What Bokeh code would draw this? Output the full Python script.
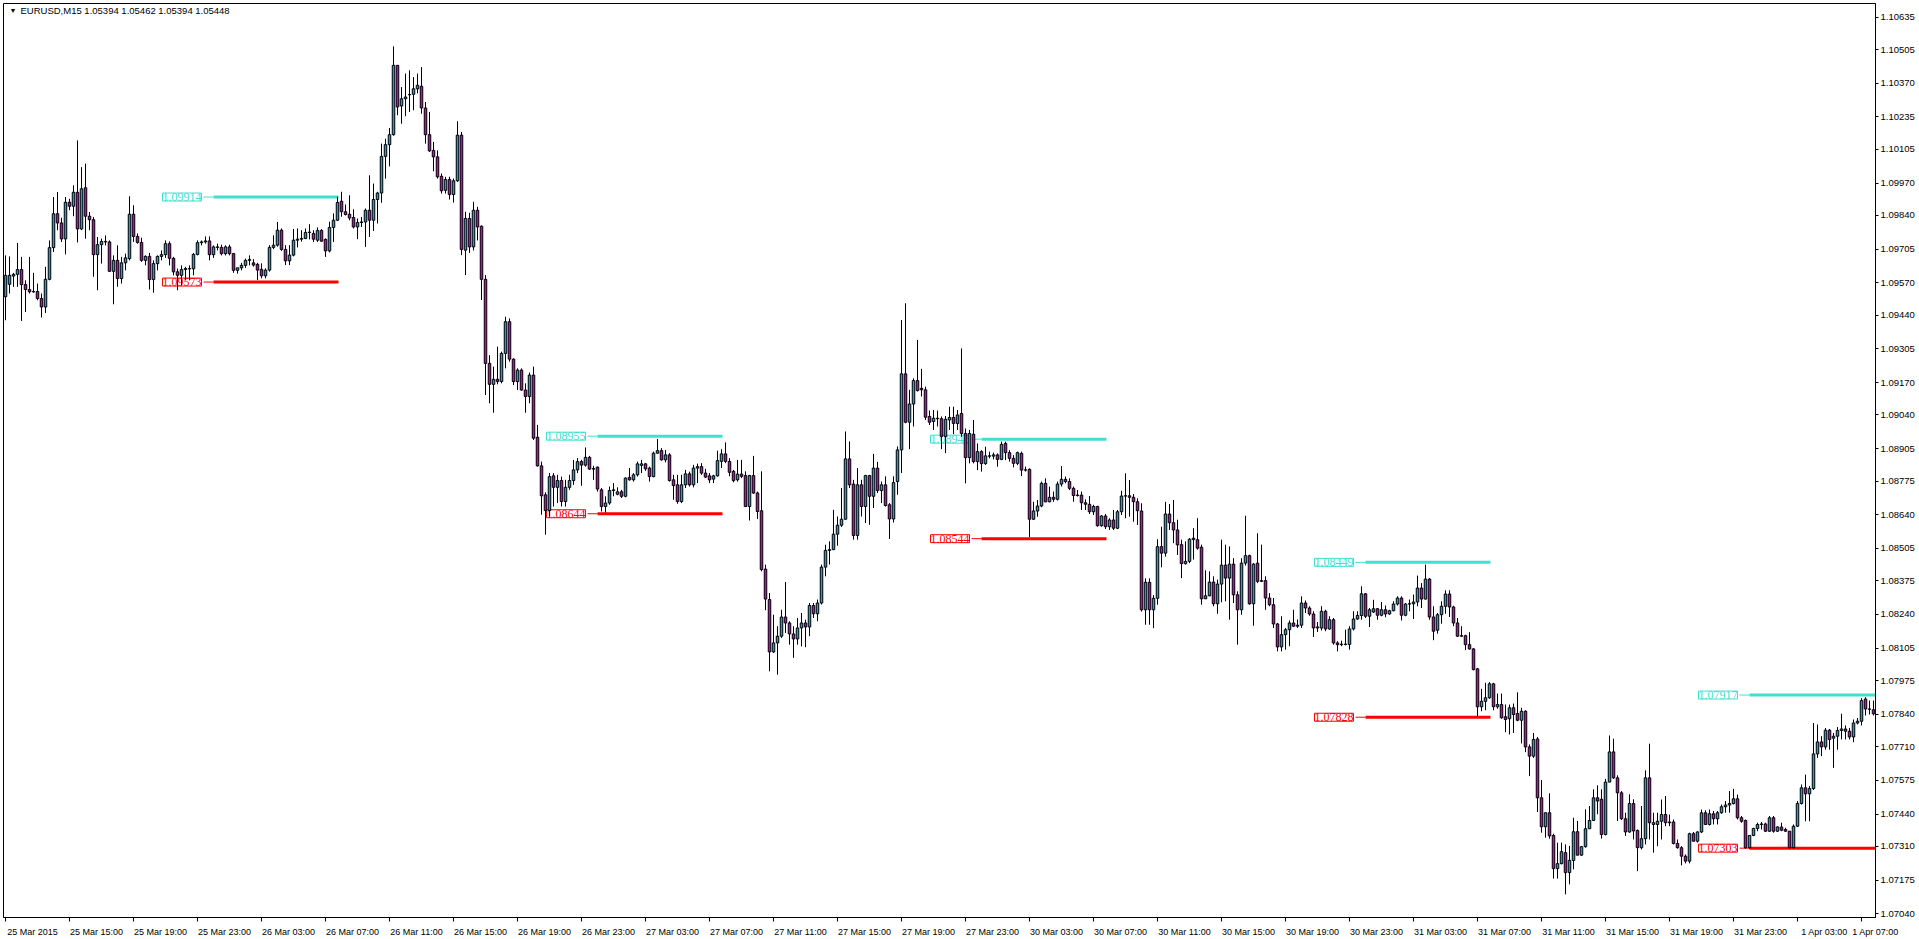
from bokeh.plotting import figure
from bokeh.models import (ColumnDataSource, Range1d, LinearAxis, FixedTicker,
                          PrintfTickFormatter, LabelSet, Label)
from bokeh.embed import file_html
from bokeh.resources import INLINE

# EURUSD M15 candles, bar 0 = 25 Mar 2015 11:00, one bar every 15 minutes
opens = [
    1.09514, 1.09564, 1.09597, 1.09604, 1.09623, 1.09563, 1.09543, 1.09534, 1.09535, 1.09507,
    1.09473, 1.09584, 1.09711, 1.09847, 1.09810, 1.09746, 1.09893, 1.09877, 1.09933, 1.09786,
    1.09951, 1.09837, 1.09823, 1.09683, 1.09723, 1.09736, 1.09734, 1.09616, 1.09660, 1.09587,
    1.09650, 1.09667, 1.09845, 1.09756, 1.09732, 1.09660, 1.09676, 1.09583, 1.09647, 1.09676,
    1.09683, 1.09727, 1.09668, 1.09614, 1.09600, 1.09623, 1.09627, 1.09626, 1.09684, 1.09731,
    1.09734, 1.09738, 1.09683, 1.09714, 1.09712, 1.09687, 1.09714, 1.09687, 1.09620, 1.09630,
    1.09640, 1.09660, 1.09650, 1.09644, 1.09624, 1.09598, 1.09621, 1.09712, 1.09721, 1.09781,
    1.09704, 1.09658, 1.09681, 1.09741, 1.09745, 1.09748, 1.09772, 1.09768, 1.09741, 1.09780,
    1.09744, 1.09698, 1.09792, 1.09821, 1.09897, 1.09855, 1.09845, 1.09832, 1.09794, 1.09812,
    1.09814, 1.09861, 1.09821, 1.09904, 1.09930, 1.10077, 1.10124, 1.10164, 1.10442, 1.10279,
    1.10308, 1.10324, 1.10326, 1.10348, 1.10358, 1.10271, 1.10164, 1.10101, 1.10075, 1.09997,
    1.09941, 1.09984, 1.09924, 1.09979, 1.10162, 1.09701, 1.09828, 1.09714, 1.09861, 1.09797,
    1.09584, 1.09247, 1.09163, 1.09183, 1.09174, 1.09287, 1.09414, 1.09264, 1.09174, 1.09220,
    1.09140, 1.09114, 1.09200, 1.08951, 1.08836, 1.08720, 1.08657, 1.08796, 1.08750, 1.08777,
    1.08693, 1.08750, 1.08777, 1.08820, 1.08853, 1.08839, 1.08870, 1.08823, 1.08831, 1.08740,
    1.08673, 1.08687, 1.08737, 1.08722, 1.08732, 1.08714, 1.08790, 1.08780, 1.08800, 1.08838,
    1.08844, 1.08827, 1.08793, 1.08887, 1.08897, 1.08860, 1.08880, 1.08780, 1.08760, 1.08693,
    1.08760, 1.08804, 1.08760, 1.08827, 1.08833, 1.08807, 1.08796, 1.08783, 1.08796, 1.08854,
    1.08884, 1.08854, 1.08814, 1.08780, 1.08803, 1.08797, 1.08673, 1.08797, 1.08727, 1.08656,
    1.08422, 1.08300, 1.08090, 1.08126, 1.08153, 1.08230, 1.08206, 1.08162, 1.08142, 1.08186,
    1.08206, 1.08190, 1.08276, 1.08243, 1.08286, 1.08430, 1.08497, 1.08500, 1.08562, 1.08598,
    1.08622, 1.08864, 1.08763, 1.08557, 1.08760, 1.08673, 1.08797, 1.08714, 1.08827, 1.08737,
    1.08760, 1.08680, 1.08623, 1.08773, 1.08900, 1.09205, 1.09011, 1.09084, 1.09178, 1.09147,
    1.09141, 1.09034, 1.09014, 1.09027, 1.09025, 1.08954, 1.09020, 1.09030, 1.09006, 1.09046,
    1.08966, 1.08869, 1.08963, 1.08853, 1.08893, 1.08845, 1.08876, 1.08875, 1.08880, 1.08862,
    1.08926, 1.08889, 1.08866, 1.08846, 1.08886, 1.08819, 1.08822, 1.08622, 1.08655, 1.08675,
    1.08766, 1.08692, 1.08710, 1.08702, 1.08763, 1.08782, 1.08773, 1.08746, 1.08717, 1.08719,
    1.08688, 1.08682, 1.08652, 1.08673, 1.08596, 1.08635, 1.08592, 1.08619, 1.08586, 1.08652,
    1.08715, 1.08716, 1.08710, 1.08692, 1.08655, 1.08259, 1.08369, 1.08259, 1.08305, 1.08512,
    1.08486, 1.08643, 1.08608, 1.08579, 1.08520, 1.08444, 1.08453, 1.08546, 1.08540, 1.08510,
    1.08303, 1.08315, 1.08370, 1.08283, 1.08362, 1.08438, 1.08386, 1.08442, 1.08319, 1.08259,
    1.08446, 1.08476, 1.08283, 1.08446, 1.08373, 1.08376, 1.08306, 1.08279, 1.08202, 1.08110,
    1.08159, 1.08179, 1.08206, 1.08193, 1.08197, 1.08286, 1.08266, 1.08242, 1.08186, 1.08186,
    1.08253, 1.08182, 1.08219, 1.08126, 1.08119, 1.08121, 1.08120, 1.08182, 1.08222, 1.08236,
    1.08323, 1.08233, 1.08250, 1.08263, 1.08237, 1.08259, 1.08242, 1.08255, 1.08282, 1.08306,
    1.08237, 1.08282, 1.08283, 1.08290, 1.08346, 1.08302, 1.08382, 1.08230, 1.08177, 1.08239,
    1.08273, 1.08322, 1.08270, 1.08206, 1.08153, 1.08155, 1.08119, 1.08102, 1.08022, 1.07870,
    1.07892, 1.07906, 1.07962, 1.07870, 1.07879, 1.07830, 1.07822, 1.07866, 1.07843, 1.07816,
    1.07852, 1.07709, 1.07672, 1.07741, 1.07505, 1.07389, 1.07445, 1.07354, 1.07221, 1.07241,
    1.07285, 1.07205, 1.07254, 1.07369, 1.07275, 1.07309, 1.07381, 1.07414, 1.07505, 1.07499,
    1.07358, 1.07568, 1.07689, 1.07585, 1.07525, 1.07421, 1.07368, 1.07482, 1.07374, 1.07305,
    1.07341, 1.07585, 1.07398, 1.07398, 1.07411, 1.07438, 1.07405, 1.07408, 1.07322, 1.07305,
    1.07271, 1.07251, 1.07361, 1.07331, 1.07368, 1.07445, 1.07398, 1.07441, 1.07421, 1.07445,
    1.07469, 1.07476, 1.07482, 1.07501, 1.07425, 1.07414, 1.07305, 1.07354, 1.07382, 1.07398,
    1.07400, 1.07371, 1.07425, 1.07371, 1.07388, 1.07378, 1.07371, 1.07305, 1.07391, 1.07482,
    1.07545, 1.07521, 1.07542, 1.07681, 1.07729, 1.07709, 1.07776, 1.07744, 1.07752, 1.07775,
    1.07781, 1.07772, 1.07749, 1.07805, 1.07812, 1.07901, 1.07861, 1.07858,
]
highs = [
    1.09680, 1.09676, 1.09610, 1.09730, 1.09674, 1.09580, 1.09674, 1.09610, 1.09567, 1.09527,
    1.09634, 1.09740, 1.09914, 1.09934, 1.09831, 1.09914, 1.09907, 1.09961, 1.10141, 1.10034,
    1.10048, 1.09854, 1.09834, 1.09754, 1.09747, 1.09760, 1.09740, 1.09680, 1.09720, 1.09674,
    1.09687, 1.09917, 1.09881, 1.09768, 1.09751, 1.09680, 1.09690, 1.09660, 1.09680, 1.09700,
    1.09740, 1.09736, 1.09674, 1.09627, 1.09640, 1.09634, 1.09640, 1.09690, 1.09740, 1.09740,
    1.09756, 1.09756, 1.09720, 1.09727, 1.09723, 1.09720, 1.09723, 1.09690, 1.09630, 1.09650,
    1.09667, 1.09680, 1.09665, 1.09650, 1.09648, 1.09628, 1.09721, 1.09761, 1.09814, 1.09788,
    1.09721, 1.09721, 1.09786, 1.09788, 1.09781, 1.09788, 1.09805, 1.09781, 1.09792, 1.09785,
    1.09748, 1.09815, 1.09848, 1.09915, 1.09935, 1.09884, 1.09921, 1.09865, 1.09828, 1.09834,
    1.09868, 1.10001, 1.09968, 1.09935, 1.10128, 1.10148, 1.10191, 1.10518, 1.10442, 1.10355,
    1.10409, 1.10422, 1.10395, 1.10409, 1.10435, 1.10295, 1.10255, 1.10135, 1.10101, 1.10008,
    1.09995, 1.09995, 1.09988, 1.10218, 1.10175, 1.09855, 1.09851, 1.09895, 1.09875, 1.09800,
    1.09601, 1.09280, 1.09234, 1.09314, 1.09294, 1.09434, 1.09427, 1.09267, 1.09227, 1.09227,
    1.09167, 1.09210, 1.09234, 1.09000, 1.08853, 1.08730, 1.08807, 1.08807, 1.08800, 1.08793,
    1.08780, 1.08800, 1.08860, 1.08867, 1.08860, 1.08910, 1.08876, 1.08836, 1.08833, 1.08747,
    1.08714, 1.08753, 1.08767, 1.08750, 1.08740, 1.08790, 1.08827, 1.08807, 1.08853, 1.08860,
    1.08847, 1.08833, 1.08893, 1.08944, 1.08907, 1.08900, 1.08887, 1.08800, 1.08800, 1.08800,
    1.08820, 1.08813, 1.08840, 1.08845, 1.08847, 1.08824, 1.08807, 1.08800, 1.08897, 1.08903,
    1.08930, 1.08867, 1.08820, 1.08860, 1.08860, 1.08814, 1.08800, 1.08876, 1.08733, 1.08814,
    1.08440, 1.08326, 1.08239, 1.08193, 1.08259, 1.08370, 1.08213, 1.08193, 1.08226, 1.08246,
    1.08219, 1.08286, 1.08286, 1.08300, 1.08440, 1.08520, 1.08533, 1.08660, 1.08633, 1.08747,
    1.08974, 1.08934, 1.08780, 1.08827, 1.08780, 1.08800, 1.08800, 1.08884, 1.08852, 1.08773,
    1.08794, 1.08687, 1.08794, 1.08914, 1.09421, 1.09488, 1.09141, 1.09187, 1.09341, 1.09225,
    1.09154, 1.09058, 1.09060, 1.09058, 1.09034, 1.09036, 1.09073, 1.09073, 1.09060, 1.09307,
    1.08986, 1.08980, 1.09020, 1.08926, 1.08899, 1.08913, 1.08893, 1.08889, 1.08886, 1.08933,
    1.08933, 1.08899, 1.08879, 1.08893, 1.08893, 1.08833, 1.08826, 1.08692, 1.08699, 1.08773,
    1.08786, 1.08753, 1.08733, 1.08773, 1.08835, 1.08793, 1.08786, 1.08753, 1.08739, 1.08733,
    1.08702, 1.08715, 1.08680, 1.08676, 1.08639, 1.08643, 1.08626, 1.08659, 1.08659, 1.08736,
    1.08806, 1.08779, 1.08723, 1.08706, 1.08686, 1.08385, 1.08385, 1.08318, 1.08542, 1.08592,
    1.08692, 1.08683, 1.08699, 1.08620, 1.08540, 1.08533, 1.08546, 1.08586, 1.08626, 1.08520,
    1.08417, 1.08413, 1.08393, 1.08380, 1.08540, 1.08520, 1.08513, 1.08466, 1.08333, 1.08466,
    1.08636, 1.08480, 1.08446, 1.08566, 1.08520, 1.08393, 1.08326, 1.08306, 1.08206, 1.08233,
    1.08186, 1.08216, 1.08259, 1.08220, 1.08313, 1.08296, 1.08273, 1.08253, 1.08210, 1.08273,
    1.08259, 1.08233, 1.08226, 1.08133, 1.08135, 1.08179, 1.08193, 1.08253, 1.08253, 1.08353,
    1.08326, 1.08266, 1.08299, 1.08266, 1.08290, 1.08276, 1.08259, 1.08293, 1.08313, 1.08313,
    1.08286, 1.08300, 1.08320, 1.08396, 1.08366, 1.08440, 1.08386, 1.08273, 1.08246, 1.08293,
    1.08337, 1.08337, 1.08275, 1.08226, 1.08193, 1.08159, 1.08169, 1.08106, 1.08026, 1.07942,
    1.07966, 1.07969, 1.07966, 1.07923, 1.07923, 1.07879, 1.07879, 1.07883, 1.07928, 1.07866,
    1.07856, 1.07719, 1.07765, 1.07749, 1.07576, 1.07445, 1.07523, 1.07361, 1.07325, 1.07325,
    1.07318, 1.07312, 1.07425, 1.07412, 1.07312, 1.07459, 1.07472, 1.07539, 1.07555, 1.07539,
    1.07581, 1.07755, 1.07742, 1.07595, 1.07532, 1.07445, 1.07519, 1.07499, 1.07378, 1.07472,
    1.07615, 1.07722, 1.07445, 1.07445, 1.07498, 1.07512, 1.07438, 1.07418, 1.07338, 1.07311,
    1.07278, 1.07365, 1.07368, 1.07371, 1.07458, 1.07455, 1.07458, 1.07452, 1.07452, 1.07478,
    1.07492, 1.07532, 1.07541, 1.07518, 1.07432, 1.07418, 1.07354, 1.07385, 1.07405, 1.07408,
    1.07405, 1.07432, 1.07432, 1.07391, 1.07405, 1.07385, 1.07371, 1.07398, 1.07492, 1.07558,
    1.07598, 1.07552, 1.07805, 1.07799, 1.07752, 1.07785, 1.07781, 1.07765, 1.07789, 1.07842,
    1.07795, 1.07785, 1.07819, 1.07825, 1.07905, 1.07908, 1.07895, 1.07895,
]
lows = [
    1.09420, 1.09527, 1.09554, 1.09554, 1.09417, 1.09453, 1.09527, 1.09530, 1.09500, 1.09431,
    1.09449, 1.09580, 1.09694, 1.09781, 1.09734, 1.09684, 1.09861, 1.09837, 1.09732, 1.09781,
    1.09747, 1.09781, 1.09594, 1.09540, 1.09647, 1.09720, 1.09614, 1.09484, 1.09554, 1.09567,
    1.09620, 1.09660, 1.09734, 1.09727, 1.09654, 1.09640, 1.09543, 1.09530, 1.09620, 1.09660,
    1.09670, 1.09640, 1.09600, 1.09540, 1.09560, 1.09580, 1.09580, 1.09600, 1.09680, 1.09720,
    1.09727, 1.09660, 1.09670, 1.09700, 1.09680, 1.09680, 1.09680, 1.09610, 1.09607, 1.09620,
    1.09630, 1.09640, 1.09635, 1.09581, 1.09588, 1.09588, 1.09615, 1.09705, 1.09715, 1.09698,
    1.09641, 1.09641, 1.09676, 1.09712, 1.09735, 1.09745, 1.09744, 1.09734, 1.09734, 1.09735,
    1.09674, 1.09692, 1.09734, 1.09818, 1.09835, 1.09840, 1.09821, 1.09788, 1.09745, 1.09794,
    1.09714, 1.09754, 1.09778, 1.09808, 1.09891, 1.09988, 1.10037, 1.10160, 1.10242, 1.10208,
    1.10238, 1.10255, 1.10262, 1.10330, 1.10248, 1.10128, 1.10095, 1.10017, 1.09988, 1.09928,
    1.09928, 1.09904, 1.09892, 1.09975, 1.09681, 1.09601, 1.09690, 1.09700, 1.09740, 1.09501,
    1.09120, 1.09087, 1.09049, 1.09163, 1.09167, 1.09227, 1.09254, 1.09160, 1.09140, 1.09138,
    1.09049, 1.09087, 1.08940, 1.08833, 1.08640, 1.08560, 1.08633, 1.08673, 1.08687, 1.08673,
    1.08673, 1.08740, 1.08760, 1.08807, 1.08756, 1.08833, 1.08820, 1.08780, 1.08733, 1.08653,
    1.08649, 1.08680, 1.08714, 1.08718, 1.08707, 1.08710, 1.08777, 1.08773, 1.08793, 1.08807,
    1.08816, 1.08773, 1.08790, 1.08884, 1.08857, 1.08850, 1.08773, 1.08700, 1.08684, 1.08687,
    1.08747, 1.08753, 1.08750, 1.08767, 1.08800, 1.08787, 1.08767, 1.08767, 1.08793, 1.08827,
    1.08847, 1.08794, 1.08770, 1.08773, 1.08787, 1.08671, 1.08617, 1.08724, 1.08623, 1.08413,
    1.08257, 1.08012, 1.08086, 1.07999, 1.08146, 1.08166, 1.08119, 1.08066, 1.08119, 1.08112,
    1.08109, 1.08153, 1.08226, 1.08213, 1.08280, 1.08393, 1.08440, 1.08500, 1.08516, 1.08591,
    1.08620, 1.08747, 1.08540, 1.08540, 1.08633, 1.08607, 1.08600, 1.08667, 1.08727, 1.08687,
    1.08673, 1.08543, 1.08609, 1.08720, 1.08807, 1.09007, 1.08903, 1.08994, 1.09134, 1.09114,
    1.09020, 1.09000, 1.08980, 1.08994, 1.08903, 1.08887, 1.08980, 1.08963, 1.08980, 1.08953,
    1.08766, 1.08846, 1.08846, 1.08819, 1.08813, 1.08840, 1.08866, 1.08862, 1.08833, 1.08859,
    1.08859, 1.08853, 1.08830, 1.08839, 1.08795, 1.08813, 1.08550, 1.08619, 1.08632, 1.08670,
    1.08690, 1.08690, 1.08692, 1.08697, 1.08753, 1.08766, 1.08739, 1.08692, 1.08713, 1.08659,
    1.08659, 1.08643, 1.08639, 1.08592, 1.08592, 1.08583, 1.08579, 1.08579, 1.08582, 1.08639,
    1.08626, 1.08632, 1.08612, 1.08599, 1.08252, 1.08199, 1.08199, 1.08185, 1.08279, 1.08429,
    1.08472, 1.08579, 1.08526, 1.08479, 1.08386, 1.08440, 1.08446, 1.08460, 1.08500, 1.08279,
    1.08302, 1.08313, 1.08273, 1.08243, 1.08289, 1.08293, 1.08219, 1.08286, 1.08119, 1.08239,
    1.08436, 1.08279, 1.08195, 1.08366, 1.08370, 1.08259, 1.08273, 1.08186, 1.08092, 1.08092,
    1.08099, 1.08113, 1.08190, 1.08186, 1.08186, 1.08246, 1.08235, 1.08150, 1.08170, 1.08176,
    1.08173, 1.08179, 1.08119, 1.08092, 1.08113, 1.08116, 1.08099, 1.08176, 1.08219, 1.08219,
    1.08226, 1.08190, 1.08246, 1.08219, 1.08233, 1.08229, 1.08239, 1.08253, 1.08276, 1.08216,
    1.08233, 1.08253, 1.08222, 1.08273, 1.08266, 1.08300, 1.08219, 1.08137, 1.08163, 1.08203,
    1.08243, 1.08230, 1.08193, 1.08150, 1.08150, 1.08097, 1.08099, 1.08016, 1.07832, 1.07852,
    1.07856, 1.07902, 1.07856, 1.07862, 1.07822, 1.07768, 1.07759, 1.07765, 1.07812, 1.07723,
    1.07688, 1.07592, 1.07665, 1.07448, 1.07365, 1.07345, 1.07341, 1.07181, 1.07181, 1.07238,
    1.07118, 1.07158, 1.07218, 1.07275, 1.07272, 1.07305, 1.07381, 1.07412, 1.07439, 1.07341,
    1.07354, 1.07568, 1.07581, 1.07412, 1.07416, 1.07352, 1.07365, 1.07338, 1.07211, 1.07298,
    1.07318, 1.07338, 1.07285, 1.07311, 1.07338, 1.07391, 1.07391, 1.07318, 1.07301, 1.07234,
    1.07242, 1.07242, 1.07331, 1.07325, 1.07364, 1.07398, 1.07394, 1.07398, 1.07398, 1.07441,
    1.07445, 1.07445, 1.07478, 1.07418, 1.07405, 1.07301, 1.07301, 1.07351, 1.07371, 1.07378,
    1.07368, 1.07368, 1.07365, 1.07368, 1.07371, 1.07368, 1.07301, 1.07301, 1.07388, 1.07478,
    1.07411, 1.07411, 1.07536, 1.07665, 1.07672, 1.07698, 1.07698, 1.07625, 1.07698, 1.07739,
    1.07739, 1.07739, 1.07728, 1.07799, 1.07795, 1.07835, 1.07839, 1.07835,
]
closes = [
    1.09600, 1.09600, 1.09604, 1.09623, 1.09563, 1.09543, 1.09534, 1.09535, 1.09507, 1.09473,
    1.09584, 1.09711, 1.09847, 1.09810, 1.09746, 1.09893, 1.09877, 1.09933, 1.09786, 1.09947,
    1.09837, 1.09823, 1.09683, 1.09723, 1.09736, 1.09734, 1.09616, 1.09660, 1.09587, 1.09650,
    1.09670, 1.09845, 1.09756, 1.09732, 1.09660, 1.09676, 1.09583, 1.09647, 1.09676, 1.09683,
    1.09727, 1.09668, 1.09614, 1.09600, 1.09623, 1.09627, 1.09626, 1.09684, 1.09731, 1.09734,
    1.09738, 1.09683, 1.09714, 1.09712, 1.09687, 1.09714, 1.09687, 1.09620, 1.09630, 1.09640,
    1.09660, 1.09663, 1.09641, 1.09621, 1.09598, 1.09621, 1.09712, 1.09721, 1.09781, 1.09704,
    1.09658, 1.09681, 1.09741, 1.09745, 1.09748, 1.09772, 1.09773, 1.09745, 1.09780, 1.09737,
    1.09698, 1.09792, 1.09821, 1.09892, 1.09855, 1.09844, 1.09830, 1.09794, 1.09812, 1.09814,
    1.09861, 1.09821, 1.09904, 1.09930, 1.10077, 1.10124, 1.10164, 1.10442, 1.10275, 1.10308,
    1.10315, 1.10325, 1.10348, 1.10362, 1.10271, 1.10164, 1.10099, 1.10075, 1.09995, 1.09939,
    1.09984, 1.09924, 1.09979, 1.10162, 1.09704, 1.09828, 1.09714, 1.09861, 1.09794, 1.09584,
    1.09247, 1.09163, 1.09183, 1.09174, 1.09287, 1.09414, 1.09264, 1.09174, 1.09220, 1.09140,
    1.09114, 1.09200, 1.08947, 1.08836, 1.08716, 1.08657, 1.08793, 1.08750, 1.08777, 1.08693,
    1.08750, 1.08777, 1.08820, 1.08853, 1.08839, 1.08870, 1.08823, 1.08825, 1.08743, 1.08673,
    1.08687, 1.08737, 1.08740, 1.08732, 1.08714, 1.08787, 1.08780, 1.08800, 1.08844, 1.08844,
    1.08824, 1.08793, 1.08887, 1.08897, 1.08860, 1.08880, 1.08777, 1.08757, 1.08693, 1.08760,
    1.08804, 1.08760, 1.08827, 1.08833, 1.08807, 1.08791, 1.08780, 1.08796, 1.08857, 1.08884,
    1.08854, 1.08810, 1.08777, 1.08803, 1.08794, 1.08673, 1.08797, 1.08727, 1.08653, 1.08420,
    1.08302, 1.08090, 1.08126, 1.08153, 1.08230, 1.08206, 1.08162, 1.08142, 1.08186, 1.08206,
    1.08190, 1.08276, 1.08243, 1.08286, 1.08430, 1.08497, 1.08500, 1.08562, 1.08598, 1.08622,
    1.08864, 1.08760, 1.08557, 1.08760, 1.08673, 1.08797, 1.08714, 1.08827, 1.08737, 1.08760,
    1.08677, 1.08623, 1.08769, 1.08900, 1.09205, 1.09011, 1.09084, 1.09178, 1.09138, 1.09141,
    1.09031, 1.09011, 1.09027, 1.09025, 1.08954, 1.09023, 1.09030, 1.09006, 1.09040, 1.08966,
    1.08869, 1.08966, 1.08853, 1.08893, 1.08845, 1.08876, 1.08875, 1.08880, 1.08862, 1.08922,
    1.08889, 1.08866, 1.08846, 1.08889, 1.08819, 1.08820, 1.08622, 1.08655, 1.08675, 1.08766,
    1.08692, 1.08710, 1.08702, 1.08763, 1.08782, 1.08773, 1.08746, 1.08717, 1.08719, 1.08688,
    1.08682, 1.08652, 1.08673, 1.08596, 1.08635, 1.08592, 1.08619, 1.08586, 1.08652, 1.08715,
    1.08716, 1.08710, 1.08692, 1.08656, 1.08259, 1.08369, 1.08259, 1.08305, 1.08512, 1.08486,
    1.08643, 1.08608, 1.08579, 1.08519, 1.08444, 1.08453, 1.08542, 1.08540, 1.08506, 1.08303,
    1.08315, 1.08370, 1.08283, 1.08362, 1.08438, 1.08386, 1.08442, 1.08319, 1.08259, 1.08446,
    1.08476, 1.08283, 1.08442, 1.08373, 1.08376, 1.08306, 1.08279, 1.08202, 1.08110, 1.08159,
    1.08179, 1.08206, 1.08193, 1.08197, 1.08286, 1.08266, 1.08242, 1.08186, 1.08190, 1.08253,
    1.08182, 1.08219, 1.08126, 1.08119, 1.08121, 1.08120, 1.08182, 1.08222, 1.08236, 1.08323,
    1.08233, 1.08259, 1.08263, 1.08237, 1.08259, 1.08242, 1.08255, 1.08282, 1.08306, 1.08237,
    1.08282, 1.08283, 1.08290, 1.08346, 1.08302, 1.08382, 1.08230, 1.08173, 1.08239, 1.08273,
    1.08322, 1.08270, 1.08206, 1.08153, 1.08155, 1.08119, 1.08102, 1.08019, 1.07870, 1.07892,
    1.07906, 1.07962, 1.07870, 1.07879, 1.07826, 1.07819, 1.07866, 1.07839, 1.07816, 1.07852,
    1.07709, 1.07672, 1.07739, 1.07505, 1.07389, 1.07445, 1.07352, 1.07221, 1.07241, 1.07289,
    1.07205, 1.07254, 1.07369, 1.07275, 1.07309, 1.07381, 1.07414, 1.07505, 1.07492, 1.07358,
    1.07568, 1.07689, 1.07585, 1.07525, 1.07421, 1.07368, 1.07482, 1.07372, 1.07305, 1.07341,
    1.07585, 1.07405, 1.07405, 1.07411, 1.07438, 1.07405, 1.07408, 1.07322, 1.07305, 1.07271,
    1.07251, 1.07361, 1.07331, 1.07368, 1.07445, 1.07398, 1.07441, 1.07421, 1.07445, 1.07469,
    1.07476, 1.07482, 1.07501, 1.07425, 1.07411, 1.07305, 1.07354, 1.07382, 1.07398, 1.07400,
    1.07371, 1.07425, 1.07371, 1.07388, 1.07375, 1.07371, 1.07305, 1.07391, 1.07482, 1.07545,
    1.07521, 1.07542, 1.07681, 1.07729, 1.07709, 1.07776, 1.07739, 1.07752, 1.07775, 1.07781,
    1.07772, 1.07749, 1.07805, 1.07812, 1.07895, 1.07861, 1.07860, 1.07842,
]

# time axis: bar index of each tick and its label
tick_bars = [0, 16, 32, 48, 64, 80, 96, 112, 128, 144, 160, 176, 192, 208, 224,
             240, 256, 272, 288, 304, 320, 336, 352, 368, 384, 400, 416, 432, 448, 464]
tick_labels = ["25 Mar 2015", "25 Mar 15:00", "25 Mar 19:00", "25 Mar 23:00",
               "26 Mar 03:00", "26 Mar 07:00", "26 Mar 11:00", "26 Mar 15:00",
               "26 Mar 19:00", "26 Mar 23:00", "27 Mar 03:00", "27 Mar 07:00",
               "27 Mar 11:00", "27 Mar 15:00", "27 Mar 19:00", "27 Mar 23:00",
               "30 Mar 03:00", "30 Mar 07:00", "30 Mar 11:00", "30 Mar 15:00",
               "30 Mar 19:00", "30 Mar 23:00", "31 Mar 03:00", "31 Mar 07:00",
               "31 Mar 11:00", "31 Mar 15:00", "31 Mar 19:00", "31 Mar 23:00",
               "1 Apr 03:00", "1 Apr 07:00"]

# price scale labels on the right
price_ticks = [1.10635, 1.10505, 1.10370, 1.10235, 1.10105, 1.09970, 1.09840,
               1.09705, 1.09570, 1.09440, 1.09305, 1.09170, 1.09040, 1.08905,
               1.08775, 1.08640, 1.08505, 1.08375, 1.08240, 1.08105, 1.07975,
               1.07840, 1.07710, 1.07575, 1.07440, 1.07310, 1.07175, 1.07040]

# range lines (start bar, end bar, upper and lower price)
level_start = [52, 148, 244, 340, 436]
level_end = [83.25, 179.25, 275.25, 371.25, 467.5]
level_high = [1.09914, 1.08955, 1.08943, 1.08449, 1.07917]
level_low = [1.09573, 1.08644, 1.08544, 1.07828, 1.07303]

BULL = "#1A9CDA"
BEAR = "#CC00CC"
CYAN = "#40E0D0"
RED = "#FF0000"
FONT = "Liberation Sans"

X0, X1 = -0.5, 467.5

n = min(len(opens), len(highs), len(lows), len(closes))
bars = list(range(n))
top = [max(opens[i], closes[i]) for i in bars]
bottom = [min(opens[i], closes[i]) for i in bars]
fill = [BULL if closes[i] >= opens[i] else BEAR for i in bars]
candles = ColumnDataSource(dict(x=bars, high=highs[:n], low=lows[:n],
                                top=top, bottom=bottom, fill=fill))

p = figure(width=1919, height=939, output_backend="svg", toolbar_location=None,
           x_range=Range1d(X0, X1), y_range=Range1d(1.07025, 1.10690),
           x_axis_location=None, y_axis_location=None,
           min_border_left=3, min_border_top=3, min_border_right=44,
           min_border_bottom=21)
p.grid.visible = False
p.outline_line_color = "black"
p.background_fill_color = "white"
p.border_fill_color = "white"

# price axis
yax = LinearAxis(ticker=FixedTicker(ticks=price_ticks),
                 formatter=PrintfTickFormatter(format="%.5f"))
yax.major_tick_out = 3
yax.major_tick_in = 0
yax.minor_tick_out = 0
yax.major_label_standoff = 2
yax.major_label_text_font = FONT
yax.major_label_text_font_size = "9.5px"
yax.major_label_text_color = "black"
yax.axis_line_color = "black"
p.add_layout(yax, "right")

# time axis: tick marks (minor ticks) at the bars, each label set just right of its tick
label_pos = [min(t + 6.75, X1) for t in tick_bars]
xax = LinearAxis(ticker=FixedTicker(ticks=label_pos, minor_ticks=tick_bars),
                 major_label_overrides=dict(zip(label_pos, tick_labels)))
xax.major_tick_out = 0
xax.major_tick_in = 0
xax.minor_tick_out = 4
xax.minor_tick_in = 0
xax.minor_tick_line_color = "black"
xax.major_label_standoff = 5
xax.major_label_text_font = FONT
xax.major_label_text_font_size = "9px"
xax.major_label_text_color = "black"
xax.axis_line_color = "black"
p.add_layout(xax, "below")

# range lines with their price boxes
for prices, col in ((level_high, CYAN), (level_low, RED)):
    p.segment(x0=[s - 2.5 for s in level_start], y0=prices, x1=level_start, y1=prices,
              line_color=col, line_width=1)
    p.segment(x0=level_start, y0=prices, x1=level_end, y1=prices,
              line_color=col, line_width=3)
    src = ColumnDataSource(dict(x=level_start, y=prices,
                                text=["%.5f" % v for v in prices]))
    p.add_layout(LabelSet(x="x", y="y", text="text", source=src, level="underlay",
                          x_offset=-51, text_align="left", text_baseline="middle",
                          text_font=FONT, text_font_size="12px",
                          text_color=col, background_fill_color="white",
                          border_line_color=col, border_line_width=1))

# candles
p.segment(x0="x", y0="low", x1="x", y1="high", line_color="black", line_width=1,
          source=candles)
p.vbar(x="x", width=0.625, top="top", bottom="bottom", fill_color="fill",
       line_color="black", line_width=1, source=candles)

# header text
p.add_layout(Label(x=6, y=907, x_units="screen", y_units="screen", text="\u25bc",
                   text_font_size="7px", text_baseline="middle", text_color="black"))
p.add_layout(Label(x=17, y=907, x_units="screen", y_units="screen",
                   text="EURUSD,M15  1.05394 1.05462 1.05394 1.05448",
                   text_font=FONT, text_font_size="9.5px",
                   text_baseline="middle", text_color="black"))

open("out.html", "w").write(file_html(p, INLINE))
